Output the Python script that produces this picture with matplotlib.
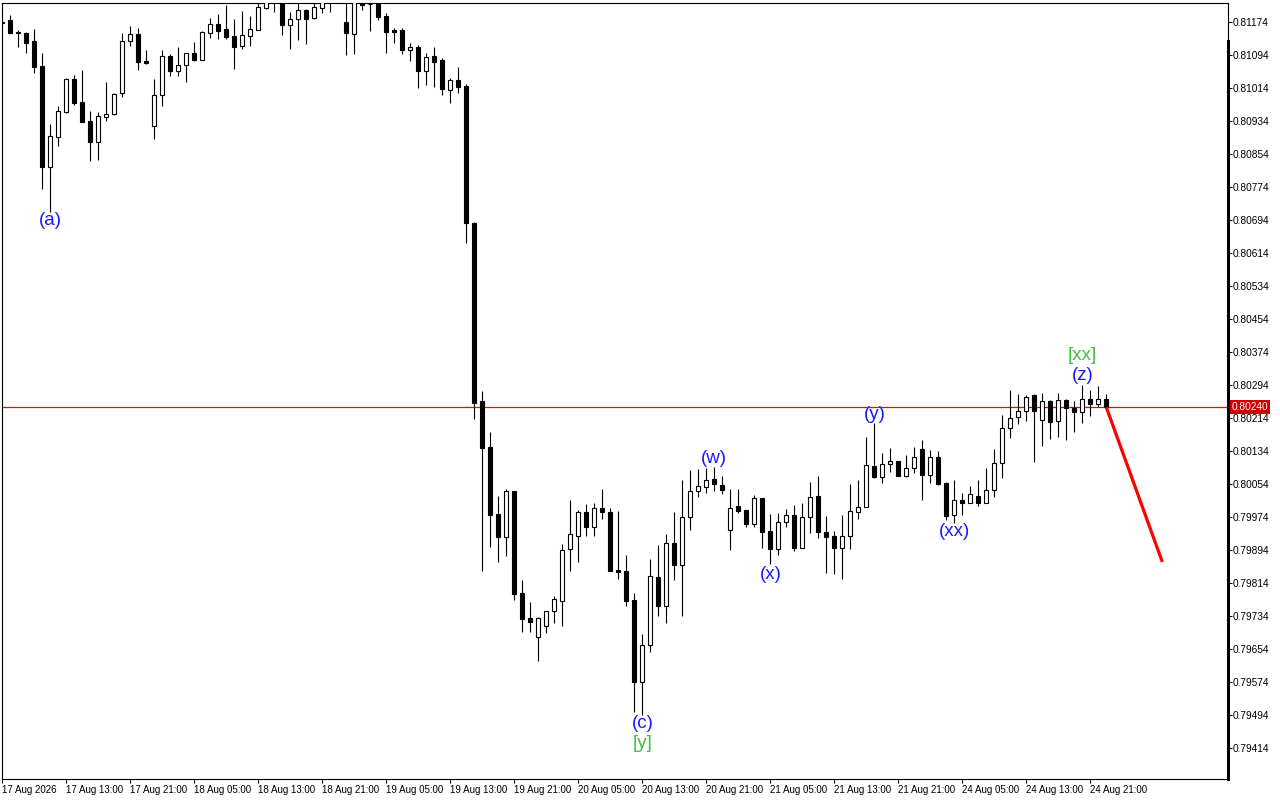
import numpy as np
import matplotlib
matplotlib.use('Agg')
import matplotlib.pyplot as plt
from matplotlib.lines import Line2D

plt.rcParams['font.family'] = ['Liberation Sans', 'DejaVu Sans']

# Bougies H1 : open / high / low / close, en unites de 1e-5
opens = [81172, 81179, 81149, 81148, 81128, 81067, 80823, 80894, 80956, 81036,
         80980, 80934, 80884, 80944, 80951, 81002, 81127, 81145, 81079, 80922,
         80998, 81091, 81056, 81069, 81099, 81082, 81148, 81168, 81157, 81140,
         81116, 81140, 81155, 81208, 81248, 81235, 81167, 81180, 81204, 81184,
         81208, 81230, 81245, 81173, 81145, 81232, 81217, 81217, 81188, 81154,
         81154, 81107, 81113, 81056, 81091, 81082, 81010, 81033, 81019, 80687,
         80255, 80144, 79981, 79926, 80037, 79789, 79729, 79684, 79709, 79745,
         79771, 79896, 79929, 79985, 79949, 79997, 79985, 79845, 79843, 79773,
         79575, 79663, 79828, 79759, 79911, 79858, 79975, 80036, 80046, 80065,
         80051, 79942, 80000, 79990, 79958, 80019, 79939, 79897, 79961, 79980,
         79900, 79973, 80026, 79938, 79928, 79900, 79929, 79985, 79999, 80097,
         80072, 80102, 80109, 80074, 80092, 80138, 80075, 80119, 80056, 79978,
         80015, 80009, 80026, 80009, 80039, 80104, 80189, 80216, 80231, 80270,
         80208, 80254, 80206, 80258, 80237, 80228, 80261, 80249, 80261]
highs = [81179, 81191, 81154, 81149, 81157, 81099, 80926, 80970, 81037, 81045,
         81057, 80958, 80956, 81029, 81001, 81147, 81164, 81159, 81106, 81036,
         81106, 81096, 81113, 81099, 81125, 81151, 81183, 81193, 81215, 81181,
         81200, 81188, 81232, 81240, 81258, 81245, 81197, 81228, 81205, 81222,
         81238, 81260, 81270, 81230, 81245, 81240, 81225, 81222, 81195, 81159,
         81159, 81123, 81118, 81099, 81113, 81086, 81038, 81065, 81023, 80689,
         80279, 80180, 80025, 80043, 80038, 79821, 79768, 79732, 79745, 79782,
         79908, 80015, 79991, 80005, 80009, 80042, 79997, 79989, 79882, 79789,
         79690, 79872, 79906, 79933, 79987, 80063, 80088, 80090, 80093, 80096,
         80073, 80042, 80042, 79991, 80027, 80020, 79981, 79983, 79993, 80003,
         80008, 80058, 80073, 79976, 79940, 79979, 80054, 80063, 80168, 80202,
         80128, 80141, 80110, 80124, 80144, 80160, 80136, 80134, 80059, 80063,
         80031, 80048, 80063, 80093, 80140, 80221, 80282, 80272, 80270, 80272,
         80274, 80257, 80275, 80259, 80256, 80295, 80283, 80292, 80272]
lows = [81169, 81147, 81114, 81098, 81051, 80770, 80714, 80874, 80954, 80972,
        80931, 80838, 80840, 80934, 80948, 80993, 81116, 81057, 81073, 80891,
        80970, 81043, 81043, 81029, 81079, 81081, 81136, 81133, 81133, 81060,
        81108, 81116, 81154, 81205, 81199, 81143, 81109, 81131, 81121, 81182,
        81196, 81199, 81222, 81094, 81097, 81203, 81153, 81179, 81099, 81124,
        81097, 81080, 81014, 81022, 81017, 80997, 80978, 81002, 80639, 80212,
        79844, 79902, 79865, 79880, 79773, 79696, 79696, 79625, 79693, 79718,
        79710, 79844, 79865, 79929, 79929, 79968, 79843, 79823, 79759, 79502,
        79494, 79647, 79735, 79716, 79821, 79735, 79942, 80023, 80033, 80038,
        80030, 79895, 79984, 79950, 79950, 79899, 79859, 79882, 79949, 79892,
        79899, 79936, 79922, 79839, 79835, 79824, 79896, 79969, 79998, 80069,
        80057, 80084, 80073, 80070, 80080, 80014, 80057, 80052, 79966, 79960,
        79979, 80007, 80001, 80008, 80023, 80068, 80166, 80199, 80207, 80108,
        80147, 80163, 80167, 80161, 80179, 80202, 80219, 80241, 80240]
closes = [81175, 81148, 81146, 81124, 81065, 80823, 80897, 80958, 81036, 80977,
          80932, 80884, 80946, 80952, 81000, 81128, 81145, 81077, 81074, 80998,
          81091, 81056, 81069, 81099, 81082, 81149, 81168, 81153, 81138, 81114,
          81142, 81157, 81210, 81230, 81232, 81167, 81180, 81204, 81182, 81209,
          81228, 81250, 81260, 81148, 81235, 81215, 81217, 81186, 81150, 81150,
          81107, 81113, 81056, 81089, 81077, 81012, 81033, 81017, 80687, 80251,
          80142, 79980, 79926, 80037, 79788, 79727, 79720, 79729, 79745, 79775,
          79894, 79933, 79985, 79949, 79997, 79987, 79844, 79841, 79771, 79575,
          79663, 79831, 79759, 79912, 79858, 79975, 80036, 80048, 80063, 80053,
          80039, 79995, 79989, 79958, 80019, 79938, 79897, 79961, 79980, 79899,
          79973, 80023, 79938, 79926, 79900, 79929, 79988, 79999, 80099, 80072,
          80102, 80109, 80074, 80092, 80119, 80075, 80119, 80053, 79977, 80015,
          80009, 80029, 80009, 80039, 80104, 80189, 80215, 80232, 80266, 80231,
          80254, 80205, 80257, 80239, 80228, 80261, 80249, 80261, 80240]

# Axe du temps (une etiquette toutes les 8 bougies)
time_labels = ['17 Aug 2026', '17 Aug 13:00', '17 Aug 21:00', '18 Aug 05:00',
               '18 Aug 13:00', '18 Aug 21:00', '19 Aug 05:00', '19 Aug 13:00',
               '19 Aug 21:00', '20 Aug 05:00', '20 Aug 13:00', '20 Aug 21:00',
               '21 Aug 05:00', '21 Aug 13:00', '21 Aug 21:00', '24 Aug 05:00',
               '24 Aug 13:00', '24 Aug 21:00']
price_ticks = [0.79414 + 0.0008 * k for k in range(23)]

current_price = 0.80240
forecast_idx = [138, 145]
forecast_price = [0.80240, 0.79865]

# Marquage des vagues
wave_labels = ['(a)', '(c)', '[y]', '(w)', '(x)', '(y)', '(xx)', '(z)', '[xx]']
wave_idx = [6, 80, 80, 89, 96, 109, 119, 135, 135]
wave_side = ['low', 'low', 'low', 'high', 'low', 'high', 'low', 'high', 'high']
wave_offset = [-9, -8, -28, 8, -10, 8, -9, 9, 29]
wave_color = ['#1a1aff', '#1a1aff', '#40c040', '#1a1aff', '#1a1aff', '#1a1aff',
              '#1a1aff', '#1a1aff', '#40c040']

o = np.array(opens) / 1e5
h = np.array(highs) / 1e5
l = np.array(lows) / 1e5
c = np.array(closes) / 1e5
x = np.arange(len(o))

fig = plt.figure(figsize=(12.8, 8), dpi=100)
ax = fig.add_axes([2 / 1280, 21 / 800, 1225.5 / 1280, 776 / 800])

# meches puis corps
ax.vlines(x, l, h, color='black', lw=0.8, zorder=2)
up = c >= o
bottom = np.minimum(o, c)
height = np.abs(c - o)
ax.bar(x[up], height[up], bottom=bottom[up], width=0.5, color='white',
       edgecolor='black', lw=0.8, zorder=3)
ax.bar(x[~up], height[~up], bottom=bottom[~up], width=0.5, color='black',
       edgecolor='black', lw=0.8, zorder=3)

# prix courant + projection
ax.axhline(current_price, color='#ff0000', lw=0.9, zorder=1)
ax.plot(forecast_idx, forecast_price, color='#ff0000', lw=2.3,
        solid_capstyle='butt', zorder=4)

for lab, i, side, off, col in zip(wave_labels, wave_idx, wave_side, wave_offset, wave_color):
    y = l[i] if side == 'low' else h[i]
    ax.annotate(lab, (i, y), xytext=(0, off), textcoords='offset pixels',
                ha='center', va='center', fontsize=13.5, color=col, zorder=5)

ax.set_xlim(-0.04, -0.04 + 1225.5 / 8)
ax.set_ylim(0.793389, 0.812199)

ax.set_xticks(x[::8])
ax.set_xticklabels(time_labels, ha='left', fontsize=7)
ax.tick_params(axis='x', direction='out', length=3, width=0.75, pad=1.5)

ax.yaxis.tick_right()
ax.set_yticks(price_ticks)
ax.set_yticklabels(['%.5f' % p for p in price_ticks], fontsize=7.3)
ax.tick_params(axis='y', direction='out', length=3, width=0.75, pad=1)

for s in ax.spines.values():
    s.set_linewidth(0.8)

# barre epaisse de l'echelle de prix
fig.add_artist(Line2D([1227.7 / 1280, 1227.7 / 1280], [21 / 800, 759 / 800],
                      transform=fig.transFigure, color='black', lw=2.2))

ax.text(1.003, current_price, '%.5f' % current_price, transform=ax.get_yaxis_transform(),
        ha='left', va='center', color='white', fontsize=7.3, zorder=6,
        bbox=dict(boxstyle='square,pad=0.2', fc='#cc0000', ec='none'))

fig.savefig('out.png', dpi=100)
